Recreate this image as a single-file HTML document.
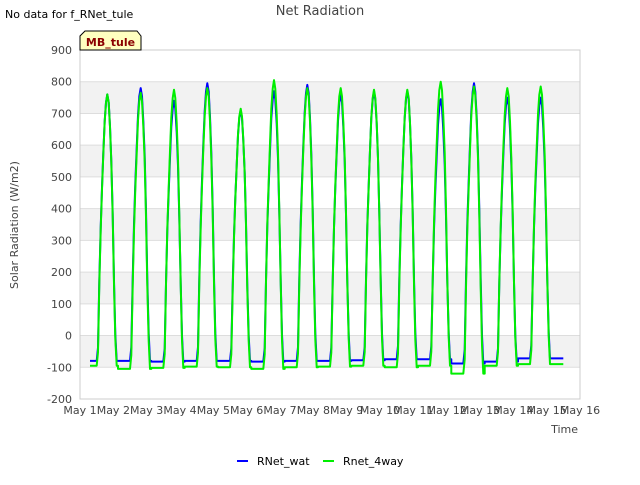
<!DOCTYPE html>
<html><head><meta charset="utf-8"><style>
body{margin:0;background:#fff;font-family:"Liberation Sans","DejaVu Sans",sans-serif;}
svg text{font-family:"DejaVu Sans","Liberation Sans",sans-serif;}
</style></head><body>
<svg id="c" width="640" height="480" xmlns="http://www.w3.org/2000/svg">
<rect width="640" height="480" fill="#fff"/>
<text x="5" y="18" font-size="11" fill="#000">No data for f_RNet_tule</text>
<text x="320" y="15" font-size="13" fill="#444" text-anchor="middle">Net Radiation</text>
<g id="grid"></g>
<rect x="80" y="50" width="500" height="349" fill="none" stroke="#ccc"/>
<g id="axes"></g>
<g id="series"></g>
<g>
<path d="M80,50 L80,36 L85,31 L137,31 L141,36 L141,50 Z" fill="#ffffc0" stroke="#000"/>
<text x="110.5" y="46" font-size="11" font-weight="bold" fill="#8b0000" text-anchor="middle">MB_tule</text>
</g>
<text x="18" y="225" font-size="11" fill="#444" text-anchor="middle" transform="rotate(-90 18 225)">Solar Radiation (W/m2)</text>
<text x="578" y="433" font-size="11" fill="#444" text-anchor="end">Time</text>
<g><line x1="237" y1="461" x2="248" y2="461" stroke="#0000ff" stroke-width="2"/><text x="257" y="465" font-size="11" fill="#000">RNet_wat</text></g>
<g><line x1="323" y1="461" x2="334" y2="461" stroke="#00ee00" stroke-width="2"/><text x="343" y="465" font-size="11" fill="#000">Rnet_4way</text></g>
</svg>
<script>
const yTicks=[-200,-100,0,100,200,300,400,500,600,700,800,900];
const xTickLabels=["May 1","May 2","May 3","May 4","May 5","May 6","May 7","May 8","May 9","May 10","May 11","May 12","May 13","May 14","May 15","May 16"];
const dayStarts=[1,2,3,4,5,6,7,8,9,10,11,12,13,14];
const peakWat=[760,780,740,795,710,770,790,760,770,770,745,795,750,750];
const peakFour=[760,765,775,780,715,805,780,780,775,775,800,785,780,785];
const nightWat=[-80,-80,-82,-80,-80,-82,-80,-80,-78,-75,-75,-88,-82,-72];
const nightFour=[-95,-105,-102,-98,-100,-105,-100,-98,-95,-100,-95,-120,-95,-90];
// normalized diurnal profile (fraction of day, relative level 0=night, 1=peak)
const profT=[0.14,0.5,0.54,0.58,0.62,0.66,0.70,0.74,0.78,0.82,0.86,0.90,0.94,0.98,1.02,1.06,1.10,1.14];
const profV=[0,0,0.05,0.3,0.5,0.65,0.78,0.9,0.97,1.0,0.97,0.88,0.75,0.55,0.3,0.1,0,0];
const X0=80,X1=580,Y0=399,Y1=50;
const xs=d=>X0+(d-1)/15*(X1-X0);
const ys=v=>Y0-(v+200)/1100*(Y0-Y1);
const NS="http://www.w3.org/2000/svg";
const grid=document.getElementById('grid'),axes=document.getElementById('axes'),ser=document.getElementById('series');
function mk(tag,attrs,parent){const e=document.createElementNS(NS,tag);for(const k in attrs)e.setAttribute(k,attrs[k]);parent.appendChild(e);return e;}
for(let i=0;i<yTicks.length-1;i++){
  const lo=yTicks[i],hi=yTicks[i+1];
  if(Math.abs(lo/100)%2===1){
    const r=mk('rect',{x:X0,y:ys(hi),width:X1-X0,height:ys(lo)-ys(hi),fill:'#f2f2f2'},grid);
    
    
  }
}
yTicks.forEach(v=>{
  const l=mk('line',{x1:X0,x2:X1,y1:ys(v),y2:ys(v),stroke:'#ddd'},grid);
  
  
  const t=mk('text',{x:72,y:ys(v)+4,'font-size':11,fill:'#444','text-anchor':'end'},axes);
  t.textContent=v;
  
  
});
xTickLabels.forEach((s,i)=>{
  const t=mk('text',{x:xs(i+1),y:414,'font-size':11,fill:'#444','text-anchor':'middle'},axes);
  t.textContent=s;
  
  
});
function series(peaks,nights,color,name){
  let pts=[];
  dayStarts.forEach((d,i)=>{
    const n=nights[i],p=peaks[i];
    for(let k=0;k<profV.length;k++){
      const t=(i===0&&k===0)?0.3:profT[k];
      pts.push([xs(d+t),ys(n+(p-n)*profV[k])]);
    }
  });
  pts.push([xs(15.5),ys(nights[nights.length-1])]);
  const path=mk('polyline',{points:pts.map(p=>p[0].toFixed(1)+','+p[1].toFixed(1)).join(' '),fill:'none',stroke:color,'stroke-width':2,'stroke-linejoin':'round'},ser);
  
  
}
series(peakWat,nightWat,'#0000ff','series-rnet-wat');
series(peakFour,nightFour,'#00ee00','series-rnet-4way');
</script>
</body></html>
